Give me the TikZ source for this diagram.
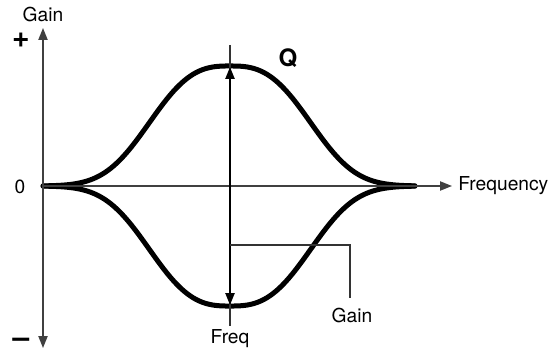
\documentclass[tikz,border=0pt]{standalone}
\usepackage{fontspec}
\setmainfont{TeX Gyre Heros}
\usepackage{tikz}
\usetikzlibrary{arrows.meta,positioning,calc}

\begin{document}
\begin{tikzpicture}[
  x=0.5pt, y=-0.5pt,
  font=\fontsize{9.6}{11}\selectfont,
  axis/.style={draw=black!75, line width=0.8pt},
  tip/.style={-{Triangle[length=6pt, width=4.6pt]}},
  bell/.style={line width=2.5pt, line cap=round},
  thinline/.style={draw=black!80, line width=0.6pt},
  gainarr/.style={line width=0.9pt, {Triangle[length=6pt, width=4.6pt]}-{Triangle[length=6pt, width=4.6pt]}},
  lbl/.style={inner sep=0pt},
  sign/.style={lbl, font=\fontsize{15}{17}\selectfont\bfseries}
]
\useasboundingbox (0,0) rectangle (549,352);
\coordinate (orig) at (43,186);
\coordinate (ytop) at (43,28);
\coordinate (ybot) at (43,348);
\coordinate (xend) at (452,186);
\coordinate (qtop) at (230,45);
\coordinate (peak) at (230,67);
\coordinate (trough) at (230,305);
\coordinate (ftick) at (230,326);
\coordinate (brl) at (230,245);
\coordinate (brr) at (350,245);
\coordinate (brb) at (350,298);
\node[lbl] (gainax) at (43,15) {Gain};
\node[sign] (plus) at (21,40) {+};
\node[lbl] (zero) at (20,187) {0};
\node[sign] (minus) at (21,343) {–};
\node[lbl, anchor=west] (freqax) at (458,186) {Frequency};
\node[lbl, font=\fontsize{12}{14}\selectfont\bfseries] (qlbl) at (288,58) {Q};
\node[lbl] (freq) at (230,339) {Freq};
\node[lbl] (gain) at (352,315) {Gain};
\draw[bell] plot[domain=-187:185, samples=160] ({230+\x},{186-120*exp(-0.693*(abs(\x)/83)^2.8)});
\draw[bell] plot[domain=-187:185, samples=160] ({230+\x},{186+120*exp(-0.693*(abs(\x)/83)^2.8)});
\draw[axis, tip] (orig) -- (ytop);
\draw[axis, tip] (orig) -- (ybot);
\draw[axis, tip] (orig) -- (xend);
\draw[thinline] (qtop) -- (ftick);
\draw[gainarr] (peak) -- (trough);
\draw[thinline] (brl) -- (brr) -- (brb);
\end{tikzpicture}
\end{document}
